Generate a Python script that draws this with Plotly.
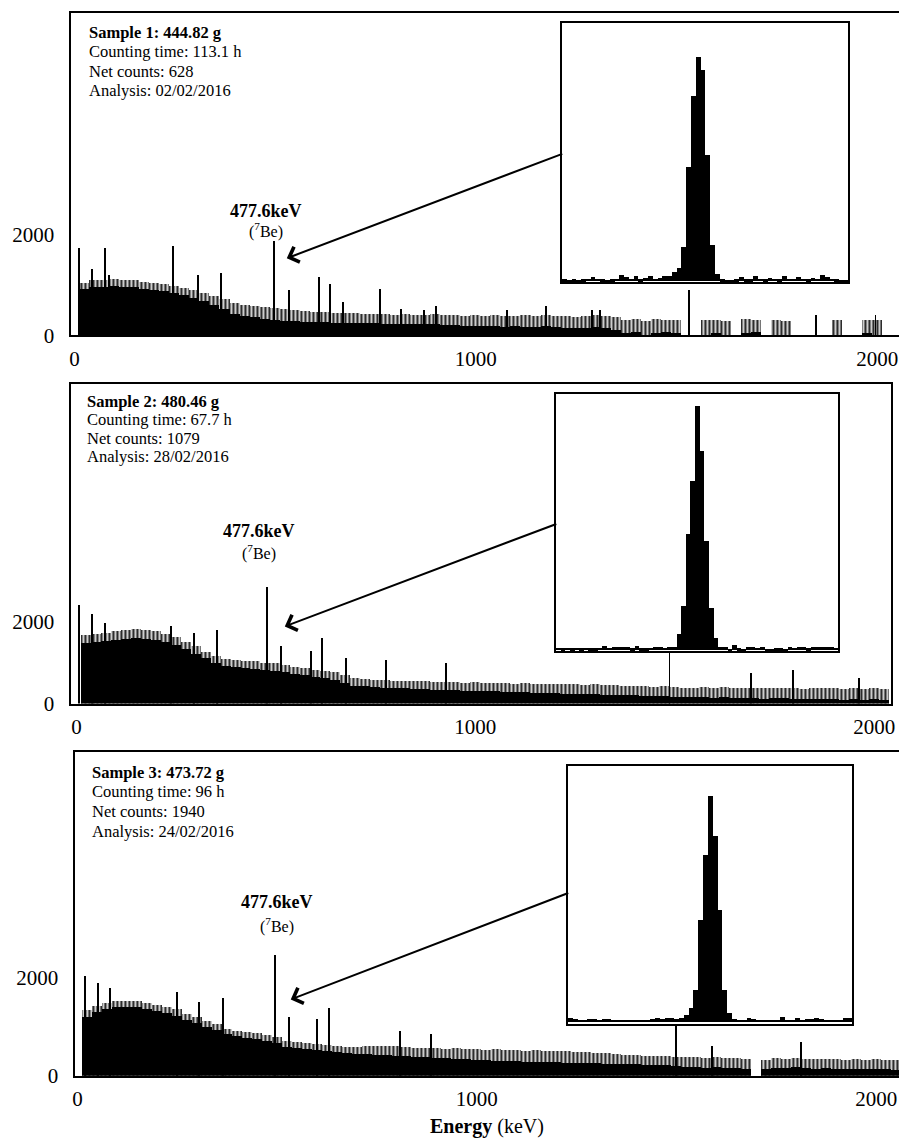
import plotly.graph_objects as go

# ---------------- DATA ----------------
# main spectra: 25 keV bins (centres), solid "base" level and grey "fringe" top level (counts)
e_bins = [25 * (i + 1) for i in range(82)]

s1_top = [1050, 1100, 1100, 1120, 1110, 1100, 1060, 1040, 1020, 980, 940, 900, 840, 780, 720, 640,
          600, 580, 560, 540, 520, 500, 480, 470, 460, 450, 440, 440, 430, 420, 420, 410,
          420, 410, 400, 420, 400, 400, 390, 400, 390, 400, 380, 390, 400, 380, 400, 380,
          390, 370, 380, 400, 380, 360, 300, 320, 280, 320, 300, 300, 0, 0, 300, 310,
          280, 0, 320, 300, 0, 300, 290, 0, 0, 0, 0, 300, 0, 0, 310, 300, 0, 0]
s1_base = [930, 960, 970, 980, 970, 960, 930, 910, 880, 850, 800, 740, 680, 600, 520, 430,
           380, 360, 330, 300, 290, 280, 270, 260, 260, 250, 250, 240, 240, 240, 230, 230,
           230, 220, 220, 220, 210, 210, 200, 200, 190, 200, 180, 190, 180, 170, 190, 170,
           160, 150, 160, 170, 150, 120, 60, 80, 0, 60, 80, 60, 0, 0, 0, 60,
           0, 0, 60, 80, 0, 0, 0, 0, 0, 0, 0, 0, 0, 0, 60, 0, 0, 0]
s1_spike_e = [13, 44, 77, 87, 246, 308, 366, 499, 535, 611, 638, 670, 763, 815, 873, 902, 1080,
              1177, 1290, 1310, 1533, 1849, 1997]
s1_spike_h = [1745, 1310, 1745, 1200, 1785, 1200, 1235, 1880, 900, 1160, 1020, 670, 920, 530, 510,
              590, 510, 590, 510, 500, 900, 410, 410]

s2_top = [1680, 1700, 1720, 1760, 1800, 1820, 1800, 1760, 1700, 1620, 1500, 1400, 1260, 1160, 1080, 1060,
          1040, 1030, 1000, 980, 940, 890, 860, 830, 800, 780, 700, 620, 600, 580, 570, 560,
          560, 550, 540, 530, 520, 520, 510, 520, 500, 510, 500, 490, 500, 480, 490, 480,
          470, 480, 460, 470, 450, 460, 440, 430, 420, 400, 420, 400, 380, 390, 400, 380,
          400, 380, 370, 390, 380, 370, 390, 380, 360, 380, 370, 380, 360, 370, 360, 370, 360, 0]
s2_base = [1480, 1500, 1520, 1560, 1580, 1600, 1580, 1540, 1500, 1420, 1320, 1220, 1100, 1000, 920, 880,
           860, 850, 830, 800, 760, 720, 690, 660, 620, 580, 500, 440, 420, 400, 390, 380,
           370, 360, 350, 340, 330, 320, 310, 310, 300, 300, 290, 280, 280, 270, 260, 250,
           240, 240, 230, 230, 220, 220, 210, 200, 190, 180, 180, 170, 160, 150, 160, 140,
           150, 140, 130, 140, 120, 130, 140, 120, 110, 120, 110, 120, 100, 110, 100, 110, 100, 0]
s2_spike_e = [7, 40, 72, 239, 296, 353, 480, 515, 589, 616, 677, 778, 928, 1488, 1692, 1798, 1963]
s2_spike_h = [2390, 2190, 1970, 1880, 1730, 1790, 2840, 1400, 1280, 1590, 1110, 1060, 990, 1230,
              750, 820, 630]

s3_top = [1330, 1430, 1480, 1520, 1530, 1520, 1480, 1450, 1400, 1350, 1260, 1200, 1120, 1050, 960, 920,
          890, 860, 820, 780, 700, 680, 660, 650, 630, 610, 590, 590, 600, 600, 610, 600,
          590, 570, 560, 560, 550, 560, 540, 550, 530, 540, 520, 530, 510, 520, 500, 510,
          500, 480, 490, 470, 460, 450, 430, 420, 410, 400, 390, 380, 370, 380, 360, 370,
          350, 360, 340, 0, 320, 350, 340, 360, 340, 330, 340, 330, 320, 330, 320, 330, 320, 310]
s3_base = [1200, 1300, 1350, 1390, 1400, 1390, 1360, 1320, 1280, 1220, 1140, 1080, 1000, 930, 850, 800,
           770, 740, 700, 660, 580, 560, 540, 520, 500, 480, 460, 440, 440, 430, 420, 410,
           400, 380, 370, 360, 350, 340, 330, 320, 310, 300, 300, 290, 280, 280, 270, 270,
           260, 260, 250, 250, 240, 240, 230, 230, 220, 220, 210, 200, 180, 170, 160, 170,
           150, 160, 140, 0, 130, 160, 150, 170, 150, 140, 150, 140, 130, 140, 130, 140, 130, 120]
s3_spike_e = [20, 52, 82, 251, 306, 366, 495, 530, 602, 630, 808, 887, 1501, 1590, 1814]
s3_spike_h = [2040, 1880, 1780, 1700, 1500, 1590, 2460, 1190, 1150, 1370, 910, 850, 1050, 600, 690]

# insets: 477.6 keV peak region, channel counts (relative units)
inset1_counts = [0.6, 0.4, 0.6, 0.5, 0.6, 0.8, 1.3, 0.7, 0.6, 0.5, 0.6, 0.7, 2.0, 1.4, 0.8, 1.5,
                 0.6, 0.9, 1.5, 0.7, 1.1, 1.5, 1.6, 2.8, 3.9, 10.5, 34.8, 56.2, 68.0, 64.2, 38.2, 11.0,
                 2.2, 0.6, 0.5, 0.5, 0.6, 1.3, 0.6, 0.6, 1.6, 0.7, 0.6, 0.9, 0.7, 0.6, 1.6, 0.8,
                 0.7, 1.3, 0.7, 0.6, 1.1, 0.8, 1.9, 1.2, 0.8, 0.6, 0.5, 0.4]
inset2_counts = [0.8, 0.6, 0.7, 0.6, 0.8, 0.6, 0.7, 0.6, 0.6, 0.8, 1.3, 0.7, 1.0, 1.1, 0.9, 1.0,
                 0.6, 1.2, 0.6, 0.6, 0.7, 0.9, 1.0, 0.8, 1.0, 1.0, 4.8, 13.2, 35.1, 51.0, 73.5, 60.0,
                 33.0, 12.6, 3.6, 0.9, 0.9, 0.5, 1.5, 0.6, 0.5, 0.9, 1.0, 0.8, 0.9, 0.5, 0.5, 0.6,
                 0.6, 0.5, 0.9, 0.8, 1.0, 0.9, 0.6, 1.0, 1.0, 1.1, 0.9, 1.0, 0.7]
inset3_counts = [1.2, 1.0, 0.6, 0.5, 1.0, 1.0, 0.6, 1.0, 1.0, 0.6, 0.5, 0.6, 0.5, 0.5, 0.6, 0.5,
                 0.6, 1.0, 1.1, 1.0, 1.2, 1.1, 0.8, 1.2, 2.0, 4.3, 9.8, 31.0, 50.6, 68.5, 56.3, 33.8,
                 9.8, 2.8, 0.8, 0.5, 0.5, 1.1, 1.0, 0.6, 0.6, 0.6, 0.6, 0.6, 1.6, 0.6, 0.6, 1.2,
                 0.7, 1.0, 1.0, 1.1, 0.9, 0.6, 0.6, 0.6, 0.6, 1.2, 1.2]

sample_text = [
    ["<b>Sample 1: 444.82 g</b>", "Counting time: 113.1 h", "Net counts: 628", "Analysis: 02/02/2016"],
    ["<b>Sample 2: 480.46 g</b>", "Counting time: 67.7 h", "Net counts: 1079", "Analysis: 28/02/2016"],
    ["<b>Sample 3: 473.72 g</b>", "Counting time: 96 h", "Net counts: 1940", "Analysis: 24/02/2016"],
]
peak_label = "<b>477.6keV</b>"
peak_sub = "(<sup>7</sup>Be)"
x_tick_vals = [0, 1000, 2000]
x_tick_text = ["0", "1000", "2000"]
y_tick_vals = [0, 2000]
y_tick_text = ["0", "2000"]

# ---------------- LAYOUT HELPERS ----------------
W, H = 903, 1147
FONT = "Liberation Serif"


def px(x):
    return x / W


def py(y):
    return 1 - y / H


fig = go.Figure()

panels = [
    dict(top=s1_top, base=s1_base, se=s1_spike_e, sh=s1_spike_h, xl=69, xr=903, yt=13, yb=339,
         x0=72, kx=0.4045, ky=0.051, mirror_y=False),
    dict(top=s2_top, base=s2_base, se=s2_spike_e, sh=s2_spike_h, xl=69, xr=895, yt=388, yb=711,
         x0=74, kx=0.402, ky=0.0415, mirror_y=True),
    dict(top=s3_top, base=s3_base, se=s3_spike_e, sh=s3_spike_h, xl=73, xr=903, yt=760, yb=1087,
         x0=75, kx=0.4025, ky=0.0495, mirror_y=False),
]

insets = [
    dict(data=inset1_counts, xl=563, xr=852, yt=23, yb=285, top=78.4, bot=-0.3),
    dict(data=inset2_counts, xl=557, xr=842, yt=398, yb=658, top=77.1, bot=-0.3),
    dict(data=inset3_counts, xl=569, xr=856, yt=774, yb=1035, top=77.6, bot=-0.7),
]

fringe_marker = dict(color="rgb(180,180,180)", line=dict(width=0),
                     pattern=dict(shape="|", fgcolor="rgb(25,25,25)", bgcolor="rgb(205,205,205)",
                                  size=4, solidity=0.45, fillmode="replace"))

layout_axes = {}
for i, p in enumerate(panels):
    n = i + 1
    xa = "x" if n == 1 else f"x{n}"
    ya = "y" if n == 1 else f"y{n}"
    fig.add_trace(go.Bar(x=e_bins, y=p["top"], width=25, marker=fringe_marker,
                         xaxis=xa, yaxis=ya, showlegend=False))
    fig.add_trace(go.Bar(x=e_bins, y=p["base"], width=25, marker=dict(color="black", line=dict(width=0)),
                         xaxis=xa, yaxis=ya, showlegend=False))
    fig.add_trace(go.Bar(x=p["se"], y=p["sh"], width=2.5, marker=dict(color="black", line=dict(width=0)),
                         xaxis=xa, yaxis=ya, showlegend=False))
    xr0 = (p["xl"] - p["x0"]) / p["kx"]
    xr1 = (p["xr"] - p["x0"]) / p["kx"]
    ymax = (p["yb"] - p["yt"]) / p["ky"]
    xkey = "xaxis" if n == 1 else f"xaxis{n}"
    ykey = "yaxis" if n == 1 else f"yaxis{n}"
    layout_axes[xkey] = dict(domain=[px(p["xl"]), px(p["xr"])], range=[xr0, xr1], anchor=ya,
                             showline=True, linecolor="black", linewidth=2, mirror=True,
                             showgrid=False, zeroline=False, tickvals=x_tick_vals, ticktext=x_tick_text,
                             ticks="outside", ticklen=3, tickcolor="rgba(0,0,0,0)",
                             tickfont=dict(family=FONT, size=21, color="black"))
    layout_axes[ykey] = dict(domain=[py(p["yb"]), py(p["yt"])], range=[0, ymax], anchor=xa,
                             showline=True, linecolor="black", linewidth=2, mirror=p["mirror_y"],
                             showgrid=False, zeroline=False, tickvals=y_tick_vals, ticktext=y_tick_text,
                             ticks="outside", ticklen=11, tickcolor="rgba(0,0,0,0)",
                             tickfont=dict(family=FONT, size=21, color="black"))

for j, ins in enumerate(insets):
    n = j + 4
    xa, ya = f"x{n}", f"y{n}"
    idx = list(range(len(ins["data"])))
    fig.add_trace(go.Bar(x=idx, y=ins["data"], width=1, marker=dict(color="black", line=dict(width=0)),
                         xaxis=xa, yaxis=ya, showlegend=False))
    layout_axes[f"xaxis{n}"] = dict(domain=[px(ins["xl"]), px(ins["xr"])], range=[-0.5, len(idx) - 0.5],
                                    anchor=ya, showline=True, linecolor="black", linewidth=2, mirror=True,
                                    showgrid=False, zeroline=False, showticklabels=False, ticks="")
    layout_axes[f"yaxis{n}"] = dict(domain=[py(ins["yb"]), py(ins["yt"])], range=[ins["bot"], ins["top"]],
                                    anchor=xa, showline=True, linecolor="black", linewidth=2, mirror=True,
                                    showgrid=False, zeroline=False, showticklabels=False, ticks="")

annotations = []
text_pos = [(85, [33, 52, 72, 91]), (83, [406, 424, 443, 461]), (88, [781, 800, 820, 840])]
for (x, ys), lines in zip(text_pos, sample_text):
    for yy, t in zip(ys, lines):
        annotations.append(dict(x=px(x), y=py(yy), xref="paper", yref="paper", text=t, showarrow=False,
                                xanchor="left", yanchor="middle",
                                font=dict(family=FONT, size=16.5, color="black")))

label_pos = [(265, 213, 233), (258, 537, 558), (276, 912, 935)]
for (x, y1, y2) in label_pos:
    annotations.append(dict(x=px(x), y=py(y1), xref="paper", yref="paper", text=peak_label, showarrow=False,
                            xanchor="center", yanchor="middle", font=dict(family=FONT, size=18, color="black")))
    annotations.append(dict(x=px(x), y=py(y2), xref="paper", yref="paper", text=peak_sub, showarrow=False,
                            xanchor="center", yanchor="middle", font=dict(family=FONT, size=16, color="black")))

arrows = [((286, 261), (563, 156)), ((284, 633), (557, 530)), ((290, 1010), (569, 903))]
for (hx, hy), (tx, ty) in arrows:
    annotations.append(dict(x=px(hx), y=py(hy), xref="paper", yref="paper", ax=tx - hx, ay=ty - hy,
                            text="", showarrow=True, arrowhead=4, arrowsize=1.6, arrowwidth=2,
                            arrowcolor="black", standoff=0))

annotations.append(dict(x=px(488), y=py(1138), xref="paper", yref="paper",
                        text="<b>Energy</b> (keV)", showarrow=False, xanchor="center", yanchor="middle",
                        font=dict(family=FONT, size=20, color="black")))

fig.update_layout(width=W, height=H, margin=dict(l=0, r=0, t=0, b=0), paper_bgcolor="white",
                  plot_bgcolor="rgba(0,0,0,0)", barmode="overlay", bargap=0, showlegend=False,
                  annotations=annotations, **layout_axes)

fig.write_html("out.html", config={"displayModeBar": False})

# remove the default page margin so the figure sits at the window's top-left corner
with open("out.html", "r", encoding="utf-8") as f:
    html = f.read()
html = html.replace("<head>", "<head><style>html,body{margin:0;padding:0;overflow:hidden;}</style>", 1)
with open("out.html", "w", encoding="utf-8") as f:
    f.write(html)
